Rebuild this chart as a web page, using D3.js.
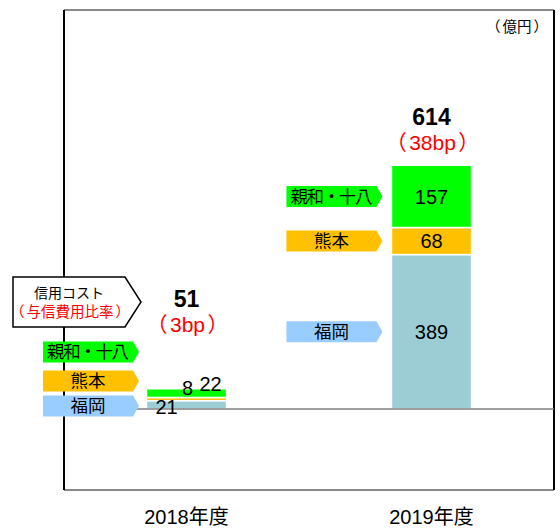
<html>
<head>
<meta charset="utf-8">
<title>信用コスト</title>
<style>
  body { margin: 0; background: #fff; }
  text { font-family: "Liberation Sans", Arial, "Noto Sans CJK JP", sans-serif; }
  .jp { font-family: "Noto Sans CJK JP", sans-serif; }
</style>
</head>
<body>
<script src="https://cdn.jsdelivr.net/npm/d3@7/dist/d3.min.js"></script>
<script>
    var width = 560;
    var height = 530;

    // データ（億円）
    var categories = ["2018年度", "2019年度"];
    var fukuoka = [21, 389];
    var kumamoto = [8, 68];
    var shinwa = [22, 157];
    var totals = [51, 614];
    var ratios = ["3bp", "38bp"];
    var seriesNames = ["福岡", "熊本", "親和・十八"];
    var seriesKeys = ["fukuoka", "kumamoto", "shinwa"];

    var barColor = ["#9ccdd4", "#ffc000", "#00ff00"];
    var tagColor = ["#99ccff", "#ffc000", "#00ff00"];

    var svg = d3.select("body")
            .append("svg")
            .attr("width", width)
            .attr("height", height);

    var fLeft = 64, fRight = 554, fTop = 10, fBottom = 490;

    var x = d3.scaleBand()
            .domain(categories)
            .range([fLeft, fRight])
            .paddingInner(0.673)
            .paddingOuter(0.3365);

    var y = d3.scaleLinear()
            .domain([-204, 1005])
            .range([fBottom, fTop]);

    var rows = categories.map(function (c, i) {
        return {cat: c, fukuoka: fukuoka[i], kumamoto: kumamoto[i], shinwa: shinwa[i]};
    });
    var stacked = d3.stack().keys(seriesKeys)(rows);

    // 全角かっこの内側に少し余白をとる
    function parenText(sel, inner, gap, innerJp) {
        sel.append("tspan").attr("class", "jp").text("（");
        var t = sel.append("tspan").attr("dx", gap).text(inner);
        if (innerJp) t.attr("class", "jp");
        sel.append("tspan").attr("class", "jp").attr("dx", gap).text("）");
        return sel;
    }

    // 枠
    svg.append("line").attr("x1", fLeft).attr("x2", fRight).attr("y1", fTop).attr("y2", fTop)
            .attr("stroke", "#888").attr("stroke-width", 2);
    svg.append("line").attr("x1", fLeft).attr("x2", fRight).attr("y1", fBottom).attr("y2", fBottom)
            .attr("stroke", "#888").attr("stroke-width", 2);
    svg.append("line").attr("x1", fLeft).attr("x2", fLeft).attr("y1", fTop).attr("y2", fBottom)
            .attr("stroke", "#000").attr("stroke-width", 2);
    svg.append("line").attr("x1", fRight).attr("x2", fRight).attr("y1", fTop).attr("y2", fBottom)
            .attr("stroke", "#000").attr("stroke-width", 2);

    // 棒
    var layers = svg.selectAll("g.layer")
            .data(stacked)
            .enter()
            .append("g")
            .attr("class", "layer")
            .attr("fill", function (d, i) { return barColor[i]; });

    layers.selectAll("rect")
            .data(function (d) { return d; })
            .enter()
            .append("rect")
            .attr("x", function (d) { return x(d.data.cat); })
            .attr("width", x.bandwidth())
            .attr("y", function (d) { return y(d[1]); })
            .attr("height", function (d) { return y(d[0]) - y(d[1]); })
            .attr("stroke", "#fff")
            .attr("stroke-width", 1.5);

    // ゼロ線
    svg.append("line")
            .attr("x1", fLeft).attr("x2", fRight)
            .attr("y1", y(0)).attr("y2", y(0))
            .attr("stroke", "#808080").attr("stroke-width", 1.5);

    // 値ラベル（小さい棒は横にずらす）
    var smallShift = [[-20, 2], [1, -11], [24, -9]];
    stacked.forEach(function (layer, k) {
        layer.forEach(function (d, i) {
            var cx = x(d.data.cat) + x.bandwidth() / 2;
            var cy = (y(d[0]) + y(d[1])) / 2;
            if (i === 0) {
                cx += smallShift[k][0];
                cy += smallShift[k][1];
            }
            svg.append("text")
                    .attr("x", cx)
                    .attr("y", cy)
                    .attr("dy", "0.36em")
                    .attr("text-anchor", "middle")
                    .attr("font-size", 20)
                    .attr("fill", "#000")
                    .text(d[1] - d[0]);
        });
    });

    // 合計・比率（棒の上にずらして表示）
    var lift = [83, 41];
    categories.forEach(function (c, i) {
        var cx = x(c) + x.bandwidth() / 2;
        var ty = y(totals[i]) - lift[i];
        svg.append("text")
                .attr("x", cx).attr("y", ty + 1)
                .attr("text-anchor", "middle")
                .attr("font-size", 23)
                .attr("font-weight", "bold")
                .text(totals[i]);
        var r = svg.append("text")
                .attr("x", cx + 1).attr("y", ty + 26)
                .attr("text-anchor", "middle")
                .attr("font-size", 21)
                .attr("fill", "#ff0000");
        parenText(r, ratios[i], 2.5, false);
    });

    // 系列タグ
    function tagPath(x0, x1, yc, h, tip) {
        return "M" + x0 + "," + (yc - h / 2) +
                "L" + (x1 - tip) + "," + (yc - h / 2) +
                "L" + x1 + "," + yc +
                "L" + (x1 - tip) + "," + (yc + h / 2) +
                "L" + x0 + "," + (yc + h / 2) + "Z";
    }

    function drawTag(x0, x1, yc, k) {
        svg.append("path")
                .attr("d", tagPath(x0, x1, yc, 21, 6))
                .attr("fill", tagColor[k]);
        var t = svg.append("text")
                .attr("class", "jp")
                .attr("x", (x0 + x1 - 6) / 2)
                .attr("y", yc)
                .attr("dy", "0.36em")
                .attr("text-anchor", "middle")
                .attr("font-size", 17.5)
                .text(seriesNames[k]);
        if (seriesNames[k].length > 3) {
            t.attr("textLength", 82).attr("lengthAdjust", "spacing");
        }
    }

    // 2019年度：各セグメントの中央に
    var last = categories.length - 1;
    stacked.forEach(function (layer, k) {
        var d = layer[last];
        var xr = x(categories[last]) - 9;
        drawTag(xr - 96, xr, (y(d[0]) + y(d[1])) / 2, k);
    });

    // 2018年度：左側に縦並び
    var leftTagY = [406, 381, 352];
    seriesKeys.forEach(function (s, k) {
        drawTag(43, 139, leftTagY[k], k);
    });

    // 信用コスト 吹き出し
    svg.append("path")
            .attr("d", "M13,277L125,277L141,302L125,327L13,327Z")
            .attr("fill", "#fff")
            .attr("stroke", "#000")
            .attr("stroke-width", 1.5);
    svg.append("text")
            .attr("class", "jp")
            .attr("x", 69).attr("y", 293).attr("dy", "0.36em")
            .attr("text-anchor", "middle")
            .attr("font-size", 14)
            .text("信用コスト");
    var sub = svg.append("text")
            .attr("class", "jp")
            .attr("x", 70).attr("y", 312).attr("dy", "0.36em")
            .attr("text-anchor", "middle")
            .attr("font-size", 14.5)
            .attr("fill", "#ff0000");
    parenText(sub, "与信費用比率", 2, true);

    // 単位
    var unit = svg.append("text")
            .attr("class", "jp")
            .attr("x", 548).attr("y", 27).attr("dy", "0.36em")
            .attr("text-anchor", "end")
            .attr("font-size", 14.5);
    parenText(unit, "億円", 2, true);

    // 横軸ラベル
    categories.forEach(function (c) {
        svg.append("text")
                .attr("x", x(c) + x.bandwidth() / 2)
                .attr("y", 517).attr("dy", "0.36em")
                .attr("text-anchor", "middle")
                .attr("font-size", 20)
                .text(c);
    });
</script>
</body>
</html>
